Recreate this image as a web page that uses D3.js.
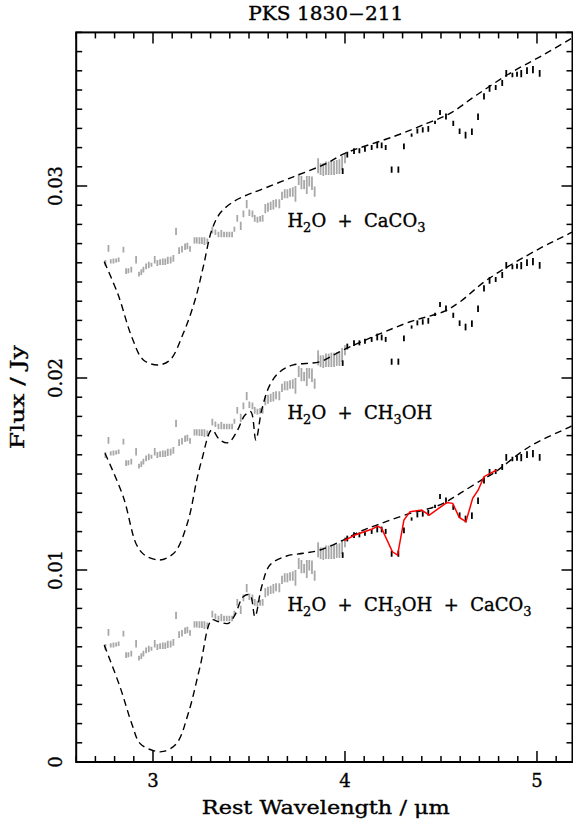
<!DOCTYPE html>
<html><head><meta charset="utf-8">
<script src="https://cdn.jsdelivr.net/npm/d3@7"></script>
<style>
body{margin:0;background:#fff;}
svg text{font-family:"DejaVu Serif",serif;fill:#000;stroke:#000;stroke-width:0.35px;white-space:pre;}
</style></head>
<body><svg id="c" width="573" height="822"></svg>
<script>
// ---- data (flux in mJy; axis labelled in Jy) ----
const xTicks = [3, 4, 5];
const xTickLabels = ["3", "4", "5"];
const yTicks = [0, 10, 20, 30];
const yTickLabels = ["0", "0.01", "0.02", "0.03"];
const spectrumOffsets = [20, 10, 0];   // top, middle, bottom copies of the same spectrum

// grey points (lambda < 4 um): wavelength, lower, upper
const greyLam = [2.752,2.768,2.780,2.794,2.808,2.821,2.846,2.860,2.872,2.887,2.912,2.927,2.939,2.950,2.964,2.978,2.992,3.009,3.023,3.037,3.051,3.064,3.077,3.092,3.106,3.120,3.136,3.151,3.167,3.179,3.193,3.216,3.228,3.242,3.255,3.268,3.283,3.309,3.325,3.341,3.356,3.370,3.384,3.398,3.412,3.424,3.439,3.457,3.471,3.488,3.502,3.518,3.530,3.544,3.558,3.571,3.585,3.599,3.613,3.627,3.641,3.658,3.672,3.686,3.700,3.714,3.728,3.742,3.759,3.773,3.787,3.801,3.814,3.828,3.842,3.860,3.873,3.887,3.901,3.915,3.929,3.943,3.957,3.971,3.985,4.000];
const greyLo = [5.83,6.58,5.97,5.97,6.01,6.04,6.53,5.42,5.45,5.49,5.97,5.28,5.36,5.49,5.66,5.71,5.80,5.97,5.83,5.89,5.89,5.89,5.94,5.97,6.06,7.45,6.46,6.53,6.67,6.70,6.58,7.01,7.01,6.98,6.98,6.93,6.98,7.53,7.45,7.33,7.33,7.33,7.33,7.33,7.33,7.62,8.14,7.71,8.37,8.84,8.44,8.37,8.14,8.09,8.14,8.14,8.58,8.66,8.75,8.78,8.89,8.84,9.27,9.36,9.36,9.44,9.44,9.18,10.05,9.83,9.83,9.58,9.97,9.79,9.44,10.66,10.57,10.52,10.57,10.57,10.57,10.57,10.63,10.63,10.83,11.18];
const greyHi = [6.15,6.93,6.18,6.23,6.23,6.28,6.84,5.71,5.71,5.80,6.35,5.54,5.66,5.80,5.97,6.06,6.00,6.35,6.15,6.18,6.23,6.23,6.32,6.32,6.41,7.83,6.81,6.88,7.01,7.05,6.88,7.33,7.33,7.33,7.33,7.33,7.27,7.88,7.74,7.62,7.71,7.62,7.62,7.62,7.62,7.88,8.49,8.14,8.72,9.27,8.78,8.72,8.49,8.40,8.44,8.49,9.06,9.13,9.18,9.27,9.31,9.31,9.70,9.83,9.83,9.88,9.93,10.00,10.63,10.52,10.31,10.52,10.52,10.49,9.97,11.44,11.18,11.18,11.27,11.27,11.32,11.32,11.35,11.39,11.56,11.70];

// black points (lambda >= 4 um)
const blackLam = [3.988,4.012,4.047,4.075,4.104,4.139,4.168,4.191,4.212,4.243,4.278,4.307,4.347,4.377,4.405,4.434,4.469,4.495,4.526,4.564,4.597,4.628,4.661,4.693,4.724,4.753,4.785,4.819,4.840,4.872,4.896,4.918,4.948,4.979,5.014];
const blackLo = [10.63,11.49,11.67,11.70,11.79,11.88,11.96,11.96,11.88,10.69,10.69,11.91,12.57,12.74,12.78,12.83,13.23,13.70,13.47,13.13,12.71,12.48,12.66,13.44,14.51,14.91,15.00,15.21,15.69,15.66,15.69,15.66,15.83,15.87,15.69];
const blackHi = [10.92,11.79,11.96,11.96,12.05,12.14,12.31,12.26,12.14,11.01,11.01,12.22,12.74,13.00,13.06,13.13,13.40,13.96,13.78,13.40,13.00,12.83,13.00,13.78,14.83,15.26,15.26,15.52,16.04,15.90,15.95,16.04,16.18,16.25,16.04];

// dashed model curves (as plotted, mJy)
const modelTopLam = [2.746,2.819,2.889,2.950,3.028,3.089,3.158,3.219,3.262,3.306,3.349,3.418,3.488,3.557,3.731,3.905,4.000,4.252,4.426,4.547,4.686,4.859,5.015,5.181,5.30];
const modelTopFlux = [26.06,24.32,22.15,20.94,20.68,20.94,22.33,24.06,25.80,27.70,28.58,29.18,29.53,29.79,30.48,31.18,31.70,32.57,33.26,33.78,34.74,35.87,36.73,37.69,38.4];
const modelMidLam = [2.750,2.845,2.915,2.960,3.036,3.085,3.123,3.184,3.228,3.254,3.306,3.349,3.392,3.436,3.479,3.509,3.536,3.566,3.609,3.661,3.731,3.870,3.991,4.339,4.512,4.599,4.738,5.015,5.172,5.30];
const modelMidFlux = [16.08,13.82,11.30,10.75,10.52,10.70,11.04,12.60,14.69,15.73,17.29,16.77,16.63,17.20,18.07,18.25,16.77,18.33,19.64,20.33,20.68,20.85,21.46,22.93,23.45,23.97,25.10,26.75,27.54,28.2];
const modelBotLam = [2.746,2.828,2.889,2.932,3.002,3.054,3.123,3.184,3.245,3.306,3.340,3.392,3.427,3.470,3.505,3.531,3.566,3.609,3.696,3.783,3.870,3.991,4.078,4.165,4.339,4.425,4.512,4.599,4.712,4.772,4.960,5.172,5.30];
const modelBotFlux = [6.09,3.92,2.01,0.97,0.59,0.55,0.97,2.54,4.96,7.40,7.31,7.22,7.66,8.61,8.70,7.57,9.13,10.26,10.73,10.87,11.04,11.56,12.00,12.34,12.95,13.16,13.47,13.99,14.69,15.03,16.42,17.46,18.1];

// red fit on bottom spectrum
const redLam = [3.996,4.052,4.139,4.170,4.191,4.247,4.274,4.307,4.339,4.399,4.439,4.530,4.561,4.595,4.630,4.665,4.694,4.724,4.790];
const redFlux = [11.53,11.82,12.12,12.29,12.17,10.95,10.78,12.60,13.04,13.12,12.86,13.51,13.47,12.74,12.52,13.73,14.17,14.86,15.21];

const labels = [
  {parts:[["H",0],["2",1],["O  +  CaCO",0],["3",1]], lam:3.70, flux:27.88},
  {parts:[["H",0],["2",1],["O  +  CH",0],["3",1],["OH",0]], lam:3.70, flux:17.88},
  {parts:[["H",0],["2",1],["O  +  CH",0],["3",1],["OH  +  CaCO",0],["3",1]], lam:3.70, flux:7.88}
];

// ---- drawing ----
const svg = d3.select("#c");
const x = d3.scaleLinear().domain([2.6, 5.185]).range([76.2, 572.5]);
const y = d3.scaleLinear().domain([0, 38]).range([762, 32.4]);
const [x0, x1] = x.range(), [y0, y1] = [y(0), y(38)];

svg.append("defs").append("clipPath").attr("id","clip")
  .append("rect").attr("x",x0).attr("y",y1).attr("width",x1-x0).attr("height",y0-y1);
const plot = svg.append("g").attr("clip-path","url(#clip)");

spectrumOffsets.forEach(off => {
  plot.append("g").selectAll("line").data(greyLam).join("line")
    .attr("x1",(d)=>x(d)).attr("x2",(d)=>x(d))
    .attr("y1",(d,i)=>y(greyLo[i]+off)).attr("y2",(d,i)=>y(greyHi[i]+off))
    .attr("stroke","#a8a8a8").attr("stroke-width",1.8);
  plot.append("g").selectAll("line").data(blackLam).join("line")
    .attr("x1",(d)=>x(d)).attr("x2",(d)=>x(d))
    .attr("y1",(d,i)=>y(blackLo[i]+off)).attr("y2",(d,i)=>y(blackHi[i]+off))
    .attr("stroke","#000").attr("stroke-width",1.8);
});

const line = d3.line().x(d=>x(d[0])).y(d=>y(d[1])).curve(d3.curveCatmullRom.alpha(0.5));
[[modelTopLam,modelTopFlux],[modelMidLam,modelMidFlux],[modelBotLam,modelBotFlux]].forEach(([L,F])=>{
  plot.append("path").datum(L.map((l,i)=>[l,F[i]])).attr("d",line)
    .attr("fill","none").attr("stroke","#000").attr("stroke-width",1.4)
    .attr("stroke-dasharray","7,4.5");
});
plot.append("path").datum(redLam.map((l,i)=>[l,redFlux[i]]))
  .attr("d",d3.line().x(d=>x(d[0])).y(d=>y(d[1])))
  .attr("fill","none").attr("stroke","#f00").attr("stroke-width",1.5);

// axes: ticks inward on all sides
const xMinor = d3.range(26, 52).map(v=>v/10).filter(v=>!xTicks.includes(v));
const yMinor = d3.range(0, 39).filter(v=>!yTicks.includes(v));
const tickG = svg.append("g").attr("stroke","#000").attr("stroke-width",1.5);
function vt(v, len){ tickG.append("line").attr("x1",x(v)).attr("x2",x(v)).attr("y1",y0).attr("y2",y0-len);
  tickG.append("line").attr("x1",x(v)).attr("x2",x(v)).attr("y1",y1).attr("y2",y1+len); }
function ht(v, len){ tickG.append("line").attr("y1",y(v)).attr("y2",y(v)).attr("x1",x0).attr("x2",x0+len);
  tickG.append("line").attr("y1",y(v)).attr("y2",y(v)).attr("x1",x1).attr("x2",x1-len); }
xMinor.forEach(v=>vt(v,6)); xTicks.forEach(v=>vt(v,11));
yMinor.forEach(v=>ht(v,6)); yTicks.forEach(v=>ht(v,11));
svg.append("rect").attr("x",x0).attr("y",y1).attr("width",x1-x0).attr("height",y0-y1)
  .attr("fill","none").attr("stroke","#000").attr("stroke-width",2);

// tick labels
svg.append("g").selectAll("text").data(xTicks).join("text")
  .attr("x",d=>x(d)).attr("y",787).attr("text-anchor","middle").attr("font-size",18)
  .text((d,i)=>xTickLabels[i]);
svg.append("g").selectAll("text").data(yTicks).join("text")
  .attr("transform",d=>`translate(61.5,${y(d)}) rotate(-90)`).attr("text-anchor","middle").attr("font-size",18)
  .text((d,i)=>yTickLabels[i]);

// titles
svg.append("text").attr("x",325.8).attr("y",20).attr("text-anchor","middle").attr("font-size",18)
  .attr("textLength",155).attr("lengthAdjust","spacingAndGlyphs").text("PKS 1830\u2212211");
svg.append("text").attr("x",325.8).attr("y",814).attr("text-anchor","middle").attr("font-size",19)
  .attr("textLength",248).attr("lengthAdjust","spacingAndGlyphs").text("Rest Wavelength / \u03bcm");
svg.append("text").attr("transform",`translate(24,${(y0+y1)/2}) rotate(-90)`).attr("text-anchor","middle").attr("font-size",18)
  .attr("textLength",104).attr("lengthAdjust","spacingAndGlyphs").text("Flux / Jy");

// model labels
labels.forEach(lb=>{
  const t = svg.append("text").attr("x",x(lb.lam)).attr("y",y(lb.flux)).attr("font-size",18);
  lb.parts.forEach(([s,sub],k)=>{
    const ts = t.append("tspan").text(s);
    if(sub) ts.attr("font-size",13).attr("dy",5);
    else if(k>0) ts.attr("dy",-5);
  });
});
</script></body></html>
